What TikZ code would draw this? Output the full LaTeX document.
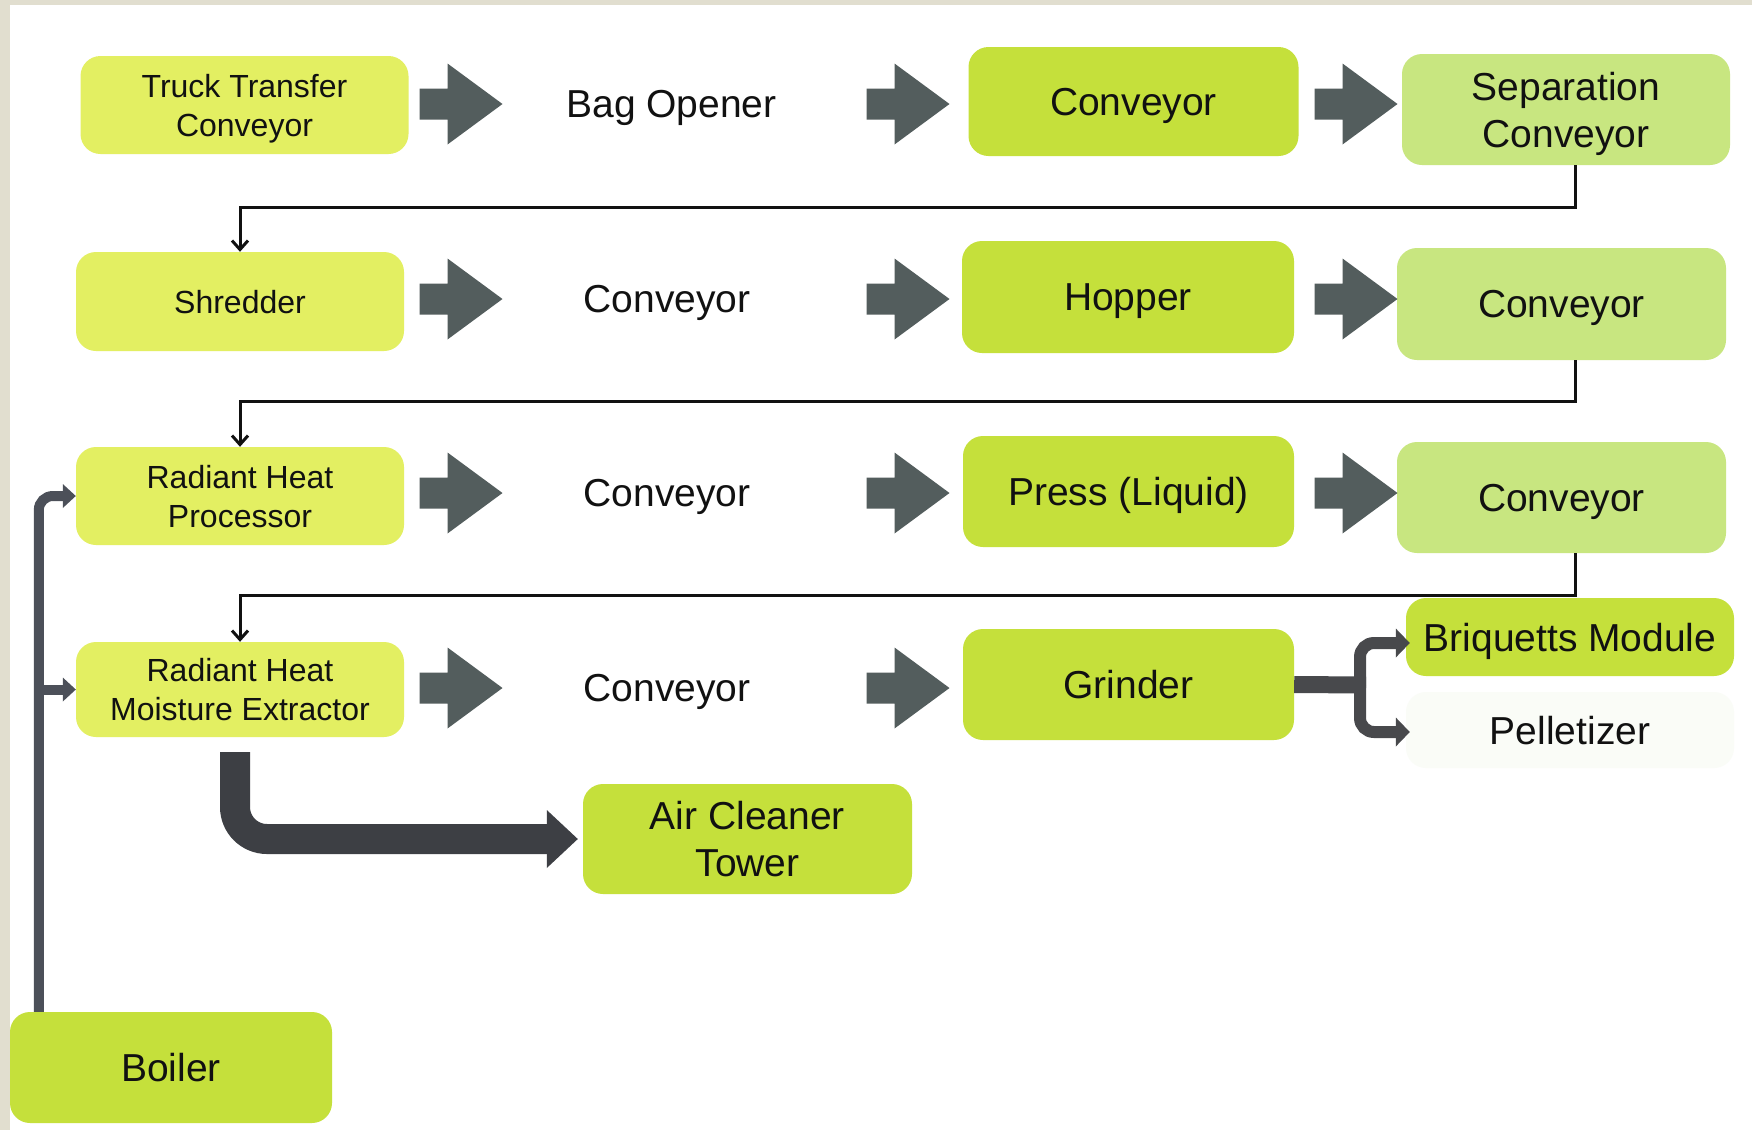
\documentclass[tikz,border=0pt]{standalone}
\usepackage{fontspec}
\setmainfont{Liberation Sans}
\usetikzlibrary{arrows.meta,calc}

\definecolor{cbeige}{HTML}{E1DECF}
\definecolor{cyellow}{HTML}{E3EF62}
\definecolor{cgreen}{HTML}{C5E03B}
\definecolor{clight}{HTML}{C8E680}
\definecolor{cfaint}{HTML}{FAFCF7}
\definecolor{carrow}{HTML}{535D5D}
\definecolor{cdark}{HTML}{3D3F44}
\definecolor{cpipe}{HTML}{4C5059}
\definecolor{csplit}{HTML}{48494C}
\definecolor{ctext}{HTML}{111111}

\tikzset{
  box/.style={rounded corners=20pt, minimum width=330pt, minimum height=110pt,
    inner sep=0pt, text depth=0pt, align=center, text=ctext,
    font=\fontsize{39}{47}\selectfont},
  smallbox/.style={box, fill=cyellow, minimum width=328pt, minimum height=98pt,
    font=\fontsize{32}{39}\selectfont},
  greenbox/.style={box, fill=cgreen},
  lightbox/.style={box, fill=clight},
  plainlabel/.style={inner sep=0pt, text depth=0pt, text=ctext,
    font=\fontsize{39}{47}\selectfont},
  % wide flow arrow between the boxes of a row, centred on its position
  blockarrow/.pic={
    \fill[carrow] (-41.5,-15.5) -- (-13.5,-15.5) -- (-13.5,-40.5) -- (41.5,0)
      -- (-13.5,40.5) -- (-13.5,15.5) -- (-41.5,15.5) -- cycle;
  },
  thinconn/.style={draw=ctext, line width=3pt,
    -{Straight Barb[length=9pt,width=16pt,line width=3pt]}},
  pipe/.style={draw=cpipe, line width=10pt,
    -{Triangle[length=13pt,width=24pt,line width=0pt]}},
  trunk/.style={draw=csplit, line width=17pt},
  branch/.style={draw=csplit, line width=12pt, rounded corners=14pt,
    -{Triangle[length=14pt,width=29pt,line width=0pt]}},
  heavyarrow/.style={draw=cdark, line width=30pt, rounded corners=32pt,
    -{Triangle[length=31pt,width=58pt,line width=0pt]}, shorten >=5pt},
}

\begin{document}
\begin{tikzpicture}[x=1pt, y=-1pt]
  % page and frame strips
  \useasboundingbox (0,0) rectangle (1752,1130);
  \fill[white] (0,0) rectangle (1752,1130);
  \fill[cbeige] (0,0) rectangle (1752,5);
  \fill[cbeige] (0,0) rectangle (10,1130);

  % row 1
  \node[smallbox] (truck) at (244.5,105) {Truck Transfer\\Conveyor};
  \node[plainlabel] (bag) at (671.5,104) {Bag Opener};
  \node[greenbox, minimum height=109pt] (conv1) at (1133.5,101.5) {Conveyor};
  \node[lightbox, minimum width=328pt, minimum height=111pt] (sep) at (1566,109.5) {Separation\\Conveyor};

  % row 2
  \node[smallbox, minimum height=99pt] (shred) at (240,301.5) {Shredder};
  \node[plainlabel] (conv2a) at (667,299) {Conveyor};
  \node[greenbox, minimum width=332pt, minimum height=112pt] (hopper) at (1128,297) {Hopper};
  \node[lightbox, minimum width=329pt, minimum height=112pt] (conv2b) at (1561.5,304) {Conveyor};

  % row 3
  \node[smallbox] (rhp) at (240,496) {Radiant Heat\\Processor};
  \node[plainlabel] (conv3a) at (667,493) {Conveyor};
  \node[greenbox, minimum width=331pt, minimum height=111pt] (press) at (1128.5,491.5) {Press (Liquid)};
  \node[lightbox, minimum width=329pt, minimum height=111pt] (conv3b) at (1561.5,497.5) {Conveyor};

  % row 4
  \node[smallbox, minimum height=95pt] (rhme) at (240,689.5) {Radiant Heat\\Moisture Extractor};
  \node[plainlabel] (conv4a) at (667,688) {Conveyor};
  \node[greenbox, minimum width=331pt, minimum height=111pt] (grinder) at (1128.5,684.5) {Grinder};
  \node[greenbox, minimum width=328pt, minimum height=78pt] (brq) at (1570,637) {Briquetts Module};
  \node[box, fill=cfaint, minimum width=328pt, minimum height=76pt] (pel) at (1570,730) {Pelletizer};

  % lower units
  \node[greenbox, minimum width=329pt, minimum height=110pt] (air) at (747.5,839) {Air Cleaner\\Tower};
  \node[greenbox, minimum width=322pt, minimum height=111pt] (boiler) at (171,1067.5) {Boiler};

  % flow arrows along each row
  \foreach \ay/\nm in {104/a, 299/b, 493/c}{
    \pic (\nm1) at (461,\ay) {blockarrow};
    \pic (\nm2) at (908,\ay) {blockarrow};
    \pic (\nm3) at (1356,\ay) {blockarrow};
  }
  \pic (d1) at (461,688) {blockarrow};
  \pic (d2) at (908,688) {blockarrow};

  % return lines from the end of each row to the start of the next
  \draw[thinconn] ([xshift=9pt]sep.south) -- ++(0,42) -| (shred.north);
  \draw[thinconn] ([xshift=13.5pt]conv2b.south) -- ++(0,41) -| (rhp.north);
  \draw[thinconn] ([xshift=13.5pt]conv3b.south) -- ++(0,42) -| (rhme.north);

  % heat supply from the boiler
  \coordinate (riser) at ($(boiler.north west)+(29,0)$);
  \draw[pipe, rounded corners=14pt] (riser) |- (rhp.west);
  \draw[pipe] (riser |- rhme.west) -- (rhme.west);

  % exhaust to the air cleaner
  \draw[heavyarrow] ($(rhme.south)+(-5,15)$) |- (air.west);

  % grinder output split
  \coordinate (split) at (1360,685);
  \draw[trunk] (grinder.east) -- ([xshift=6pt]split);
  \draw[branch] (split) |- ($(brq.west)+(4,6)$);
  \draw[branch] (split) |- ($(pel.west)+(4,2)$);
\end{tikzpicture}
\end{document}
